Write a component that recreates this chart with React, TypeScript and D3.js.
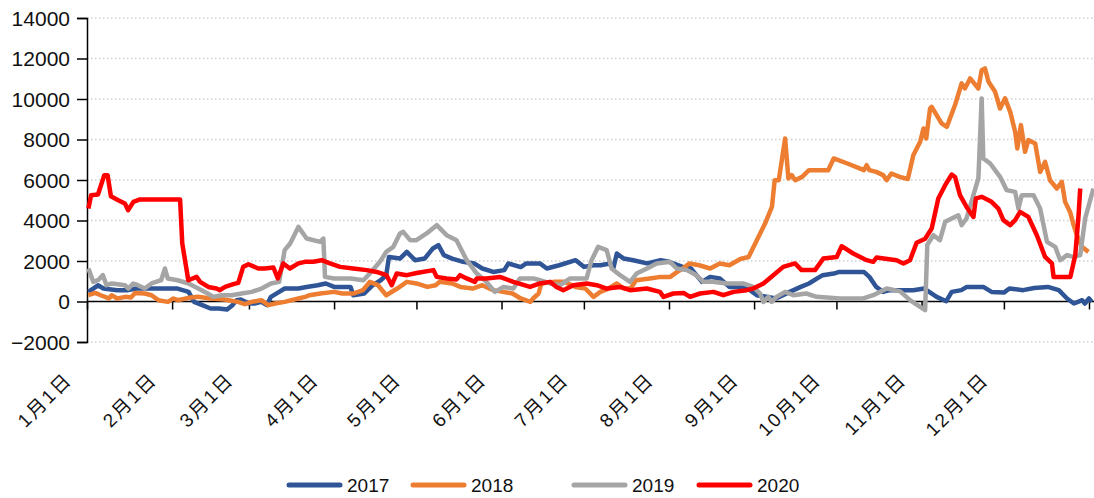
import React, { useEffect, useRef } from 'react';
import * as d3 from 'd3';

// day of year (0 = 1月1日) and value
const s2017: [number, number][] = [
  [0.5, 475], [4, 800], [6, 640], [11, 560], [15, 560], [18, 640], [24, 640], [33, 640], [37, 475], [39, -20],
  [42, -180], [45, -345], [48, -345], [51, -400], [53, -180], [54.5, 65], [56, 100], [59, -100], [61, -100], [63.5, -20],
  [65.5, -180], [67, 230], [70, 475], [72, 640], [77, 640], [80, 720], [84, 800], [87, 890], [90, 720], [96, 720],
  [97, 310], [101, 395], [104, 800], [107, 1050], [109, 1300], [110, 2200], [114, 2120], [116.5, 2450], [119.5, 2040], [123, 2120],
  [126, 2620], [128, 2780], [130, 2290], [133, 2120], [137, 1960], [141, 1880], [144, 1630], [148, 1460], [152, 1550], [153.5, 1880],
  [158, 1700], [160, 1880], [165, 1880], [167.5, 1630], [172, 1790], [178, 2040], [181, 1710], [184.5, 1790], [187, 1790], [190.5, 1880],
  [191.7, 1630], [193, 2370], [195.5, 2120], [199, 2040], [204, 1880], [209, 2040], [212, 1960], [217, 1710], [220, 1630], [222, 1300],
  [224, 970], [227, 1215], [230.5, 1140], [234, 720], [238, 720], [241.5, 560], [244, 310], [247.5, 230], [251, 150], [256, 475],
  [260, 720], [263, 890], [266, 1140], [268, 1300], [272, 1380], [274, 1460], [283, 1460], [285, 1215], [287.5, 720], [290, 475],
  [292.5, 560], [301, 560], [305, 640], [309.5, 230], [313, 15], [315, 475], [318.5, 560], [320.5, 720], [326.5, 720], [329.5, 475],
  [334, 440], [336, 640], [341, 560], [345, 670], [350, 720], [354, 560], [357, 150], [359.5, -100], [361, -20], [362.5, 65],
  [363.5, -100], [365, 150], [366, -20],
];

const s2018: [number, number][] = [
  [0.5, 310], [3, 425], [5, 310], [8, 150], [9, 310], [11, 150], [14, 230], [16, 200], [17.5, 425], [21, 395],
  [23.5, 310], [26, 65], [29.5, -20], [31.5, 150], [33, 65], [37, 180], [40.5, 230], [45, 150], [50, 100], [55, -20],
  [57.5, -130], [60, -20], [63.5, 65], [66, -180], [68.5, -100], [72, -20], [77, 150], [79.5, 230], [81, 310], [85, 395],
  [90, 475], [93, 395], [97, 395], [100.5, 560], [103, 970], [106, 805], [109, 310], [113, 640], [116.5, 970], [120, 890],
  [124, 720], [127, 805], [128.5, 970], [133, 890], [136, 720], [140.5, 640], [144, 805], [148, 560], [151.5, 475], [155, 395],
  [158, 150], [161.5, -20], [162.5, 150], [164.5, 395], [165.5, 890], [170, 970], [174, 970], [178, 720], [181.5, 640], [184.5, 230],
  [187, 475], [190, 640], [193, 890], [195.5, 640], [198, 640], [200, 1050], [205, 1140], [209, 1215], [212.5, 1215], [215, 1460],
  [217, 1630], [219.5, 1880], [223, 1790], [227, 1630], [230.5, 1880], [234, 1790], [238, 2100], [241, 2200], [244, 3030], [247, 3850],
  [249.5, 4670], [250.5, 5990], [252, 5990], [254.3, 8050], [255.5, 6075], [256.7, 6240], [258, 5990], [260.5, 6155], [263, 6485], [270, 6485],
  [272, 7065], [277, 6815], [283, 6485], [284, 6730], [285, 6485], [287.5, 6400], [290, 6240], [291.3, 5990], [293, 6320], [296, 6155],
  [299, 6050], [301, 7225], [303.5, 7885], [304.7, 8545], [305.7, 8050], [307.1, 9530], [307.7, 9615], [309.5, 9205], [311.3, 8795], [313.2, 8625],
  [316.2, 9700], [318.6, 10770], [319.8, 10520], [321.7, 11015], [324.7, 10520], [325.9, 11425], [327.1, 11510], [328.4, 10850], [330.8, 10355], [332.6, 9530],
  [334.4, 10030], [336.3, 9365], [338.1, 8380], [338.9, 7560], [340.2, 8710], [341.7, 7390], [342.9, 7970], [345.4, 7805], [347.2, 6400], [349, 6895],
  [350.8, 5990], [353.3, 5580], [355.1, 5910], [356.3, 4920], [358.1, 4425], [359.4, 3770], [360.6, 3275], [362.4, 2700], [364.8, 2450],
];

const s2019: [number, number][] = [
  [0.5, 1630], [2.3, 970], [4, 1050], [5.8, 1300], [7.1, 805], [9, 890], [13.8, 805], [15, 640], [16.9, 890], [18.5, 805],
  [21, 640], [23.5, 890], [27, 1050], [28.4, 1630], [29.4, 1140], [33, 1050], [37, 890], [40.5, 640], [44, 395], [46, 230],
  [49, 310], [52.7, 310], [56.3, 395], [60, 475], [63.6, 640], [67, 890], [70, 970], [72, 2535], [74, 2865], [77, 3685],
  [80, 3110], [85, 2945], [86.1, 3110], [86.7, 1215], [90, 1140], [96, 1140], [100.7, 1050], [103, 1380], [106.7, 1960], [109, 2450],
  [111.6, 2700], [114, 3360], [115.2, 3440], [117.7, 3030], [120, 3030], [123.7, 3360], [127.4, 3770], [131, 3275], [134.6, 3030], [138.3, 2040],
  [142, 1380], [145.5, 970], [148.6, 475], [151.7, 720], [155.3, 640], [157.7, 1140], [162.6, 1140], [165, 1050], [168.7, 890], [172.3, 805],
  [176, 1140], [182, 1140], [183.8, 2040], [186.2, 2700], [189.3, 2535], [191.1, 1630], [194.2, 1300], [197.8, 970], [200.2, 1380], [204, 1630],
  [207.5, 1880], [212.4, 1960], [214.8, 1630], [218.5, 1550], [222, 1300], [224.5, 970], [228, 970], [233, 890], [239, 890], [242.7, 720],
  [245.2, 395], [246.4, -20], [248.2, 230], [249.4, -20], [251.2, 230], [254.3, 475], [257.3, 310], [262, 395], [265.8, 230], [274.3, 150],
  [282.8, 150], [286.4, 310], [291.3, 640], [296.2, 500], [299.8, 65], [303.5, -270], [305.3, -430], [306.1, 2800], [308.3, 3275], [310.7, 3030],
  [312.6, 3935], [315, 4100], [317.4, 4260], [318.6, 3770], [320.4, 4100], [322.9, 5250], [324.7, 6075], [325.9, 10030], [326.5, 7065], [329, 6815],
  [332.6, 6155], [335, 5500], [338.1, 5415], [339.3, 4590], [340.5, 5250], [344.8, 5250], [347.2, 4590], [349.7, 2945], [352.7, 2700], [354.5, 2040],
  [357, 2290], [359.4, 2200], [361.8, 2290], [363.6, 4100], [366.6, 5580],
];

const s2020: [number, number][] = [
  [0.5, 4594], [1.5, 5250], [4, 5285], [6.3, 6240], [7.5, 6240], [8.7, 5200], [11.4, 5000], [13.8, 4840], [15, 4510], [16.9, 4920],
  [19.3, 5040], [33.9, 5040], [34.7, 2865], [36.9, 1050], [39.9, 1215], [41.2, 970], [44.2, 720], [47.2, 640], [48.4, 560], [50.3, 720],
  [53.3, 855], [55.1, 920], [56.9, 1710], [58.8, 1840], [62.4, 1630], [64.8, 1630], [67.9, 1680], [69.5, 1140], [71.5, 1880], [73.9, 1630],
  [77, 1880], [79.4, 1960], [82.4, 1960], [85.5, 2040], [88.5, 1880], [92.2, 1710], [97, 1630], [101.9, 1550], [105.5, 1460], [109.1, 1300],
  [111, 805], [112.8, 1380], [116.5, 1300], [120.1, 1410], [126.2, 1550], [127.4, 1215], [131, 1140], [134.6, 1090], [135.9, 1300], [138.3, 1140],
  [141.3, 970], [142, 1140], [145.5, 1140], [150.4, 1215], [155.3, 970], [161.4, 720], [165, 890], [168.7, 970], [171, 720], [173.5, 560],
  [177.2, 805], [182, 890], [185.7, 805], [189.3, 640], [194.2, 720], [197.8, 560], [203.9, 640], [208.7, 475], [210, 230], [213.6, 395],
  [217.3, 425], [219.7, 230], [223.3, 395], [228.2, 475], [231.8, 310], [235.5, 475], [240.3, 560], [242.7, 640], [246.4, 890], [250, 1300],
  [253.6, 1710], [257.9, 1880], [260.3, 1550], [265.2, 1550], [268.2, 2120], [273.1, 2200], [274.9, 2730], [279.1, 2370], [284, 2040], [286.4, 1960],
  [287.6, 2170], [294.9, 2040], [297.4, 1880], [299.8, 2040], [302.2, 2900], [305.3, 3100], [307.7, 3600], [310.1, 5090], [312.6, 5745], [315, 6270],
  [316.2, 6150], [318, 5250], [320.4, 4670], [322.9, 4180], [323.8, 5090], [325.9, 5170], [329.5, 4920], [332, 4590], [333.8, 4015], [336.3, 3770],
  [338.1, 4015], [339.9, 4425], [342.9, 4180], [346, 3275], [349, 2200], [351.5, 1880], [352.1, 1215], [358.2, 1215], [360, 2290], [361.2, 4260],
  [361.8, 5580],
];

const years = ['2017', '2018', '2019', '2020'];
const colors = ['#2F5597', '#ED7D31', '#A5A5A5', '#FF0000'];
const monthDays = [0, 31, 59, 90, 120, 151, 181, 212, 243, 273, 304, 334];
const monthLabels = ['1月1日', '2月1日', '3月1日', '4月1日', '5月1日', '6月1日', '7月1日', '8月1日', '9月1日', '10月1日', '11月1日', '12月1日'];
const yTicks = [-2000, 0, 2000, 4000, 6000, 8000, 10000, 12000, 14000];

export default function App() {
  const ref = useRef<SVGSVGElement>(null);

  useEffect(() => {
    const width = 1094;
    const height = 498;
    const left = 87;
    const right = 1094;

    const svg = d3.select(ref.current);
    svg.selectAll('*').remove();

    const x = d3.scaleLinear().domain([0, 365]).range([left, 1089]);
    const y = d3.scaleLinear().domain([-2000, 14000]).range([342, 18]);

    // grid
    svg.append('g')
      .selectAll('line')
      .data(yTicks.filter(d => d !== 0))
      .enter().append('line')
      .attr('x1', left).attr('x2', right)
      .attr('y1', d => y(d)).attr('y2', d => y(d))
      .attr('stroke', '#cfcfcf')
      .attr('stroke-width', 1.3)
      .attr('stroke-dasharray', '1.5,2.5');

    // y axis, labels drawn by hand
    const yAxis = d3.axisLeft(y).tickValues(yTicks).tickSize(10).tickFormat(() => '');
    const gy = svg.append('g').attr('transform', `translate(${left},0)`).call(yAxis);
    gy.select('.domain').attr('stroke', '#000').attr('stroke-width', 1.5);
    gy.selectAll('.tick line').attr('stroke', '#000').attr('stroke-width', 1.5);

    const fmt = d3.format('d');
    svg.append('g')
      .selectAll('text')
      .data(yTicks)
      .enter().append('text')
      .attr('x', 70)
      .attr('y', d => y(d))
      .attr('dy', '0.36em')
      .attr('text-anchor', 'end')
      .attr('font-family', 'Arial, "Liberation Sans", sans-serif')
      .attr('font-size', 21)
      .attr('fill', '#111')
      .text(d => fmt(d));

    // x axis
    const xAxis = d3.axisBottom(x).tickValues([...monthDays, 365]).tickSize(8).tickFormat(() => '');
    const gx = svg.append('g').attr('transform', `translate(0,${y(0)})`).call(xAxis);
    gx.select('.domain').remove();
    gx.selectAll('.tick line').attr('stroke', '#000').attr('stroke-width', 1.5);
    gx.append('line')
      .attr('x1', left).attr('x2', right)
      .attr('stroke', '#000').attr('stroke-width', 1.5);

    svg.append('g')
      .selectAll('text')
      .data(monthDays)
      .enter().append('text')
      .attr('transform', d => `translate(${x(d) - 14},381) rotate(-45)`)
      .attr('text-anchor', 'end')
      .attr('font-family', 'Arial, "Noto Sans CJK SC", sans-serif')
      .attr('font-size', 19)
      .attr('letter-spacing', 2)
      .attr('fill', '#111')
      .text((d, i) => monthLabels[i]);

    // series
    const line = d3.line<[number, number]>()
      .x(d => x(d[0]))
      .y(d => y(d[1]));

    [s2017, s2018, s2019, s2020].forEach((s, i) => {
      svg.append('path')
        .attr('d', line(s))
        .attr('fill', 'none')
        .attr('stroke', colors[i])
        .attr('stroke-width', 4.5)
        .attr('stroke-linejoin', 'round');
    });

    // legend
    const legendX = [287, 411, 572, 697];
    const lg = svg.append('g')
      .selectAll('g')
      .data(years)
      .enter().append('g')
      .attr('transform', (d, i) => `translate(${legendX[i]},485)`);
    lg.append('line')
      .attr('x1', 2).attr('x2', 53)
      .attr('stroke', (d, i) => colors[i])
      .attr('stroke-width', 5)
      .attr('stroke-linecap', 'round');
    lg.append('text')
      .attr('x', 60).attr('y', 7)
      .attr('font-family', 'Arial, "Liberation Sans", sans-serif')
      .attr('font-size', 19)
      .attr('fill', '#111')
      .text(d => d);

    svg.attr('width', width).attr('height', height);
  }, []);

  return (
    <svg ref={ref} width={1094} height={498}
      style={{ position: 'absolute', left: 0, top: 0, background: '#fff' }} />
  );
}
